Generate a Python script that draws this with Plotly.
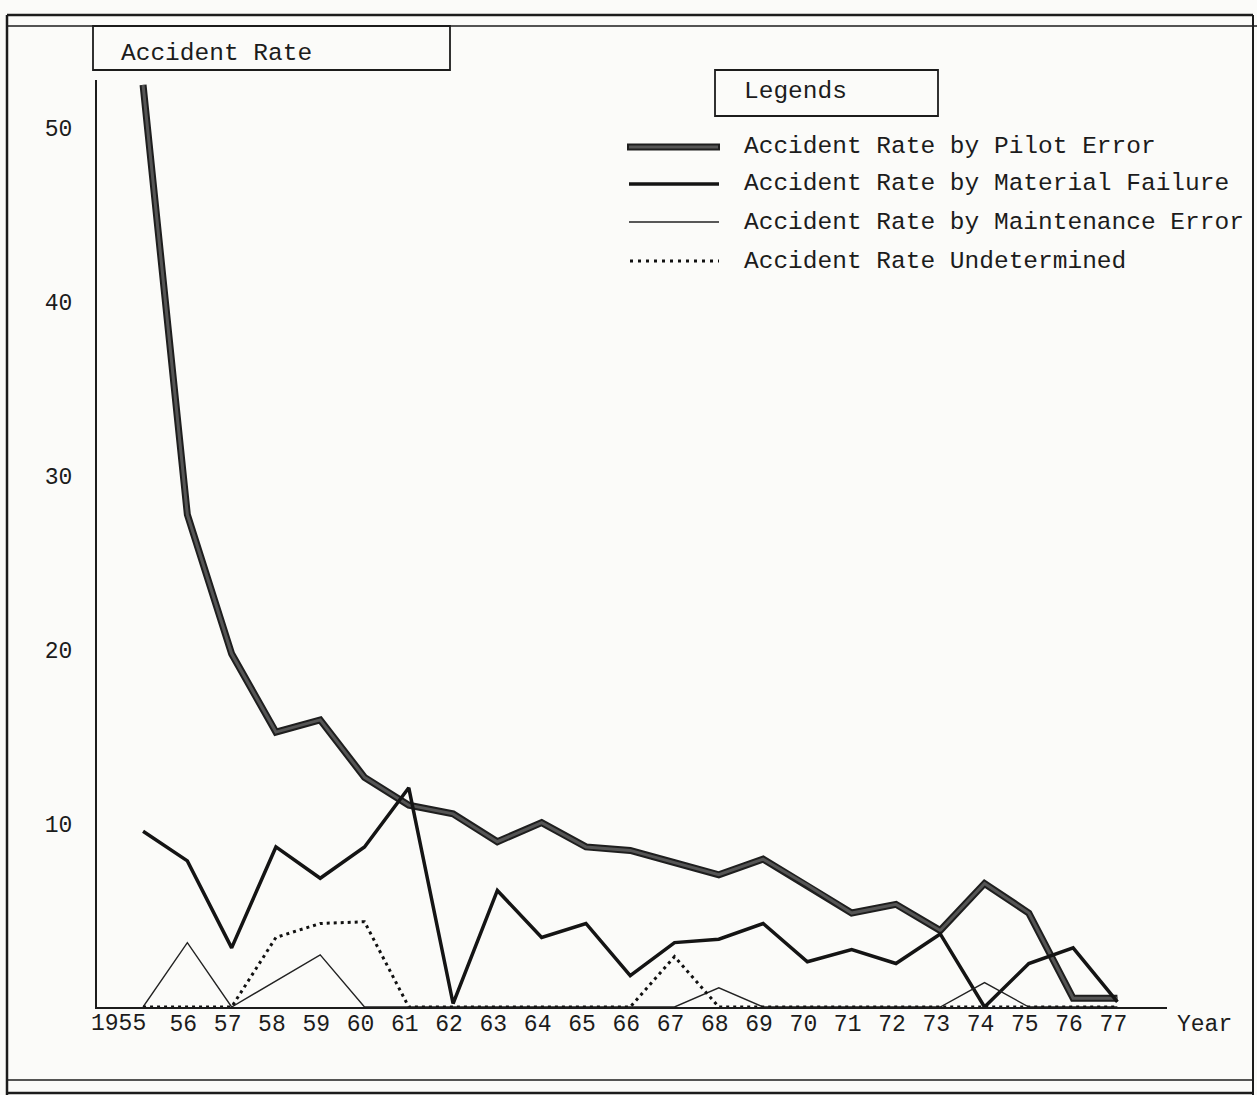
import plotly.graph_objects as go

# Accident rates per year, 1955-1977
years = list(range(1955, 1978))
pilot_error = [53.0, 28.3, 20.3, 15.8, 16.5, 13.2, 11.6, 11.1, 9.5, 10.6, 9.2, 9.0,
               8.3, 7.6, 8.5, 7.0, 5.4, 5.9, 4.4, 7.1, 5.4, 0.5, 0.5]
material_failure = [10.1, 8.4, 3.4, 9.2, 7.4, 9.2, 12.6, 0.2, 6.7, 4.0, 4.8, 1.8,
                    3.7, 3.9, 4.8, 2.6, 3.3, 2.5, 4.2, 0.0, 2.5, 3.4, 0.3]
maintenance_error = [0.0, 3.7, 0.0, 1.5, 3.0, 0.0, 0.0, 0.0, 0.0, 0.0, 0.0, 0.0,
                     0.0, 1.1, 0.0, 0.0, 0.0, 0.0, 0.0, 1.4, 0.0, 0.0, 0.0]
undetermined = [0.0, 0.0, 0.0, 4.0, 4.8, 4.9, 0.0, 0.0, 0.0, 0.0, 0.0, 0.0,
                2.9, 0.0, 0.0, 0.0, 0.0, 0.0, 0.0, 0.0, 0.0, 0.0, 0.0]

# first year is written in full, right-aligned to its point; the rest as two digits
first_year_label = str(years[0])
x_ticktext = [""] + [str(y)[2:] for y in years[1:]]
y_tickvals = [10, 20, 30, 40, 50]

legend_labels = [
    "Accident Rate by Pilot Error",
    "Accident Rate by Material Failure",
    "Accident Rate by Maintenance Error",
    "Accident Rate Undetermined",
]

FONT = "Liberation Mono, DejaVu Sans Mono, monospace"
INK = "#1c1c1c"
PAPER = "#fbfbf9"
PILOT_OUTER, PILOT_INNER = "#1e1e1e", "#555555"

W, H = 1257, 1095
ML, MR, MT, MB = 97, 90, 80, 88
PW, PH = W - ML - MR, H - MT - MB


def px(x):
    return (x - ML) / PW


def py(y):
    return (H - MB - y) / PH


fig = go.Figure()

# pilot error: heavy dark stroke with a slightly lighter core
fig.add_trace(go.Scatter(x=years, y=pilot_error, mode="lines",
                         line=dict(color=PILOT_OUTER, width=7), showlegend=False))
fig.add_trace(go.Scatter(x=years, y=pilot_error, mode="lines",
                         line=dict(color=PILOT_INNER, width=3), showlegend=False))
fig.add_trace(go.Scatter(x=years, y=material_failure, mode="lines",
                         line=dict(color="#141414", width=3.5), showlegend=False))
fig.add_trace(go.Scatter(x=years, y=maintenance_error, mode="lines",
                         line=dict(color="#222", width=1.4), showlegend=False))
fig.add_trace(go.Scatter(x=years, y=undetermined, mode="lines",
                         line=dict(color="#111", width=3, dash="3px,4px"),
                         showlegend=False))

shapes = []
annotations = []


def hline(x0, x1, y, w=1.5, color=INK, dash=None):
    d = dict(type="line", xref="paper", yref="paper",
             x0=px(x0), x1=px(x1), y0=py(y), y1=py(y),
             line=dict(color=color, width=w))
    if dash:
        d["line"]["dash"] = dash
    shapes.append(d)


def vline(x, y0, y1, w=1.5):
    shapes.append(dict(type="line", xref="paper", yref="paper",
                       x0=px(x), x1=px(x), y0=py(y0), y1=py(y1),
                       line=dict(color=INK, width=w)))


def box(x0, y0, x1, y1, w=1.8):
    shapes.append(dict(type="rect", xref="paper", yref="paper",
                       x0=px(x0), x1=px(x1), y0=py(y1), y1=py(y0),
                       line=dict(color=INK, width=w), fillcolor="rgba(0,0,0,0)"))


def label(text, x, y, size=24.5, anchor="left"):
    annotations.append(dict(text=text, xref="paper", yref="paper",
                            x=px(x), y=py(y), xanchor=anchor, yanchor="middle",
                            showarrow=False,
                            font=dict(family=FONT, size=size, color=INK)))


# page frame
hline(7, 1253, 15, w=2.5)
hline(7, 1257, 26, w=1.5)
vline(7, 15, 1095, w=2.5)
vline(1253, 15, 1095, w=2)
hline(7, 1253, 1080, w=1.5)
hline(7, 1253, 1093, w=2.5)

# axis title box
box(93, 26, 450, 70)
label("Accident Rate", 119, 53)

# legend
box(715, 70, 938, 116)
label("Legends", 742, 92)
rows = [147, 184, 222, 261]
hline(627, 720, rows[0], w=7, color=PILOT_OUTER)
hline(629, 718, rows[0], w=3, color=PILOT_INNER)
hline(629, 719, rows[1], w=3.5, color="#141414")
hline(629, 719, rows[2], w=1.4, color="#222")
hline(630, 719, rows[3], w=3, color="#111", dash="3px,5px")
for r, t in zip(rows, legend_labels):
    label(t, 742, r)

label("Year", 1175, 1025, size=23)

# full first-year label under the axis
annotations.append(dict(text=first_year_label, x=years[0], xref="x",
                        y=py(1024), yref="paper", xanchor="right",
                        yanchor="middle", xshift=5, showarrow=False,
                        font=dict(family=FONT, size=23, color=INK)))

fig.update_layout(
    width=W, height=H,
    margin=dict(l=ML, r=MR, t=MT, b=MB, autoexpand=False),
    paper_bgcolor=PAPER, plot_bgcolor=PAPER,
    showlegend=False,
    shapes=shapes, annotations=annotations,
    font=dict(family=FONT, color=INK),
)
fig.update_xaxes(
    range=[1953.96, 1978.12], showgrid=False, zeroline=False,
    showline=True, linecolor=INK, linewidth=2,
    tickmode="array", tickvals=years, ticktext=x_ticktext,
    ticks="", tickangle=0, automargin=False,
    tickfont=dict(family=FONT, size=23, color=INK),
    ticklabelshift=-4, ticklabelstandoff=-6,
)
fig.update_yaxes(
    range=[0, 53.28], showgrid=False, zeroline=False,
    showline=True, linecolor=INK, linewidth=2,
    tickmode="array", tickvals=y_tickvals, ticktext=[str(v) for v in y_tickvals],
    ticks="", automargin=False,
    tickfont=dict(family=FONT, size=23, color=INK),
    ticklabelshift=-9, ticklabelstandoff=18,
)

fig.write_html("out.html")
